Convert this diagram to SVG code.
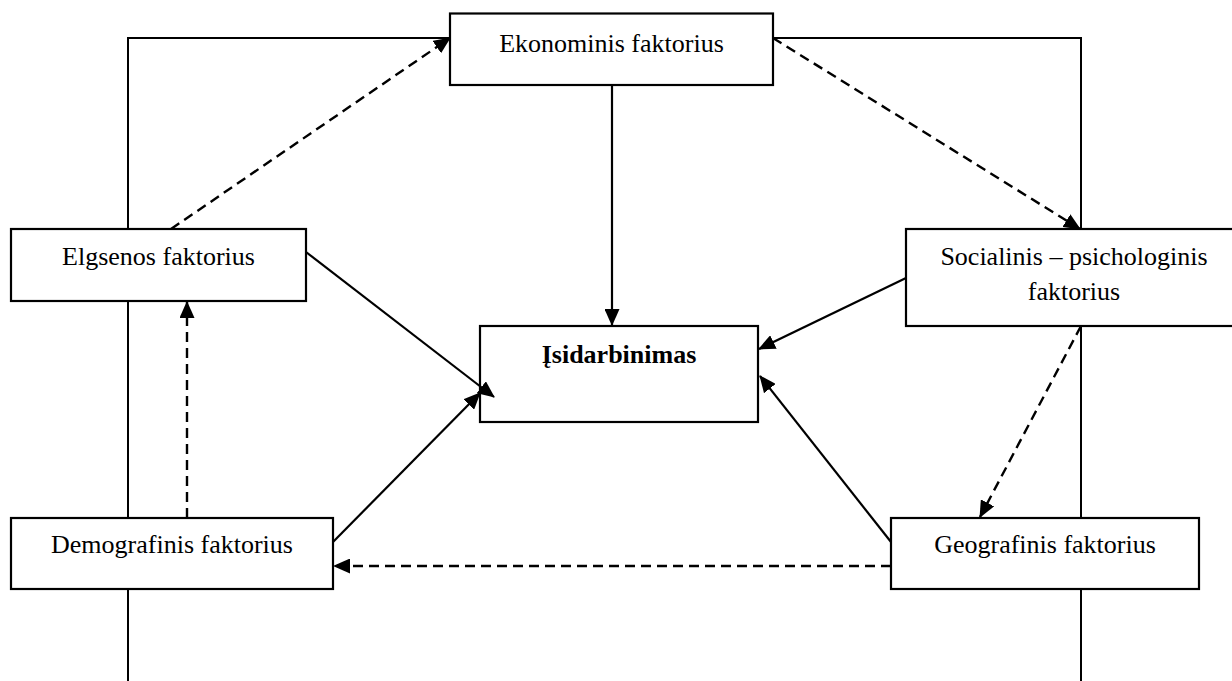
<svg xmlns="http://www.w3.org/2000/svg" width="1232" height="681" viewBox="0 0 1232 681">
<style>
.box{fill:#fff;stroke:#000;stroke-width:2.2}
.t{font-family:"Liberation Serif","Times New Roman",serif;font-size:26px;fill:#000;text-anchor:middle}
.b{font-weight:bold}
.ln{fill:none;stroke:#000;stroke-width:2}
.s{stroke:#000;stroke-width:2.2;fill:none;marker-end:url(#ah)}
.d{stroke:#000;stroke-width:2.4;fill:none;stroke-dasharray:10 6;marker-end:url(#ah)}
</style>
<defs>
<marker id="ah" markerUnits="userSpaceOnUse" markerWidth="17" markerHeight="15" viewBox="0 0 17 15" refX="16" refY="7.5" orient="auto">
<path d="M0,0 L17,7.5 L0,15 Z" fill="#000"/>
</marker>
</defs>
<g id="frame">
<path class="ln" d="M128,681 L128,38 L450,38"/>
<path class="ln" d="M773,38 L1081,38 L1081,681"/>
</g>
<g id="n-ekonominis"><rect class="box" x="450" y="13.5" width="323" height="71.5"/><text class="t" x="611.5" y="52">Ekonominis faktorius</text></g>
<g id="n-elgsenos"><rect class="box" x="11" y="229" width="295" height="72"/><text class="t" x="158.5" y="265">Elgsenos faktorius</text></g>
<g id="n-socialinis"><rect class="box" x="906" y="229" width="336" height="97"/><text class="t" x="1074" y="265">Socialinis – psichologinis</text><text class="t" x="1074" y="300">faktorius</text></g>
<g id="n-isidarbinimas"><rect class="box" x="480" y="326" width="278" height="96"/><text class="t b" x="619" y="363">Įsidarbinimas</text></g>
<g id="n-demografinis"><rect class="box" x="11" y="518" width="322" height="71"/><text class="t" x="172" y="553">Demografinis faktorius</text></g>
<g id="n-geografinis"><rect class="box" x="891" y="518" width="308" height="71"/><text class="t" x="1045" y="553">Geografinis faktorius</text></g>
<g id="connectors">
<line class="s" x1="612" y1="85" x2="612" y2="325"/>
<line class="d" x1="171" y1="229" x2="450" y2="38"/>
<line class="d" x1="773" y1="38" x2="1080" y2="229"/>
<line class="s" x1="906" y1="278" x2="759" y2="349"/>
<line class="d" x1="1081" y1="326" x2="980" y2="517"/>
<line class="s" x1="891" y1="542" x2="760" y2="376"/>
<line class="d" x1="891" y1="566" x2="334" y2="566"/>
<line class="s" x1="333" y1="542" x2="480" y2="393"/>
<line class="s" x1="306" y1="252" x2="494" y2="397"/>
<line class="d" x1="187" y1="518" x2="187" y2="302"/>
</g>
</svg>
